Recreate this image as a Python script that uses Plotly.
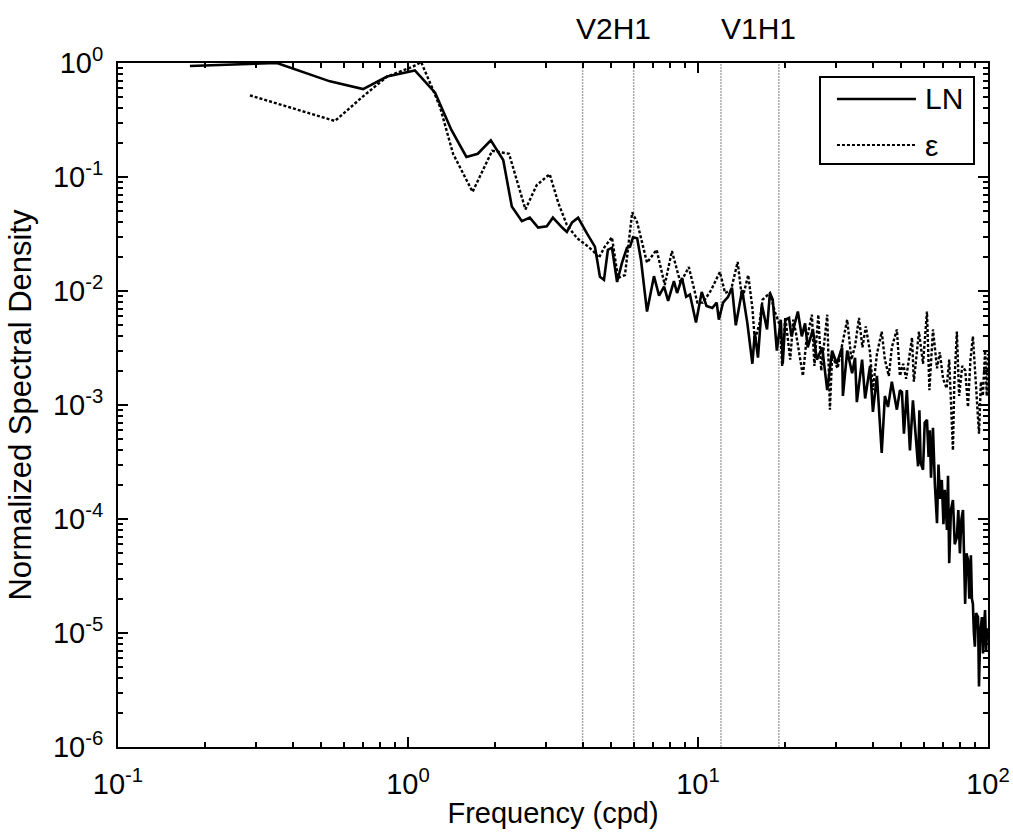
import math
import plotly.graph_objects as go

# ---- data ----
ln_freq = [0.177, 0.353, 0.538, 0.70, 0.847, 1.056, 1.24, 1.41, 1.59, 1.74, 1.93,
           2.13, 2.28, 2.47, 2.63, 2.81, 3.01, 3.16, 3.40, 3.53, 3.68, 3.86,
           4.14, 4.41, 4.49, 4.59, 4.74, 4.89, 5.05, 5.26, 5.47, 5.69, 5.83,
           5.97, 6.17, 6.36, 6.67, 7.05, 7.34, 7.64, 7.89, 8.26, 8.47, 8.81,
           9.1, 9.38, 9.84, 10.3, 10.7, 11.2, 11.6, 11.8, 12.2, 12.7, 13.1,
           13.5, 14.2, 14.8, 15.4, 15.7, 16.1, 16.6, 17.3, 17.7, 18.1, 18.7,
           19.3, 19.6, 20.0, 20.6, 21.0, 22.1, 22.8, 23.4, 23.9, 24.9, 25.7,
           26.8, 27.9, 29.0, 30.1, 31.4, 31.6, 32.7, 34.0, 34.8, 35.3, 36.8,
           37.7, 39.2, 40.1, 41.4, 43.0, 44.1, 45.2, 46.6, 48.5, 49.7, 50.5,
           51.3, 52.5, 53.8, 55.1, 56.2, 57.4, 58.0, 58.6, 59.7, 60.5, 61.6,
           62.4, 63.0, 63.6, 64.6, 65.6, 66.7, 67.5, 68.3, 69.3, 70.2, 71.0,
           72.2, 72.8, 73.5, 74.5, 75.7, 76.8, 78.1, 79.0, 80.0, 81.0, 82.0,
           82.7, 83.4, 84.3, 85.3, 86.2, 87.3, 88.0, 88.7, 89.4, 90.1, 91.0,
           92.4, 93.1, 94.0, 95.3, 96.1, 97.0, 97.7, 98.5, 99.3, 100.0]
ln_psd = [0.94, 1.0, 0.69, 0.59, 0.76, 0.86, 0.55, 0.26, 0.15, 0.16, 0.21,
          0.141, 0.055, 0.041, 0.044, 0.036, 0.037, 0.044, 0.036, 0.033, 0.040, 0.044,
          0.032, 0.0245, 0.0187, 0.0133, 0.0125, 0.023, 0.024, 0.012, 0.0177, 0.024, 0.0245,
          0.0296, 0.029, 0.0187, 0.0066, 0.0135, 0.0091, 0.0109, 0.0082, 0.0122, 0.0096, 0.0130,
          0.0089, 0.0093, 0.0053, 0.0098, 0.0074, 0.0071, 0.0079, 0.0056, 0.0079, 0.0089, 0.0107,
          0.0050, 0.0102, 0.0052, 0.0023, 0.0043, 0.0026, 0.0076, 0.0046, 0.0096, 0.0084, 0.0030,
          0.0056, 0.0023, 0.0056, 0.0058, 0.0040, 0.0066, 0.0040, 0.0052, 0.0032, 0.0046, 0.0025,
          0.0032, 0.00135, 0.0030, 0.0023, 0.0032, 0.0012, 0.0030, 0.0019, 0.0026, 0.00106, 0.0025,
          0.00114, 0.0022, 0.00087, 0.0018, 0.00038, 0.0012, 0.00096, 0.0016, 0.00091, 0.00135, 0.0013,
          0.00056, 0.00135, 0.0004, 0.0011, 0.0006, 0.00029, 0.0009, 0.00031, 0.00027, 0.0007, 0.00074,
          0.00035, 0.0006, 0.00023, 0.00063, 0.0002, 0.000092, 0.0003, 0.00015, 0.00022, 0.00009, 0.00018,
          0.00008, 0.00024, 0.000041, 0.00012, 0.000147, 0.00006, 0.000069, 0.00012, 0.00005, 0.0001, 0.00012,
          0.00004, 0.000018, 0.00005, 0.000044, 0.00002, 0.000048, 0.00002, 0.000018, 0.00001, 0.0000076, 0.000015,
          0.0000138, 0.0000034, 0.00001, 0.0000138, 0.0000066, 0.000012, 0.0000159, 0.000007, 0.000011, 0.000009]

eps_freq = [0.285, 0.56, 0.70, 0.847, 1.04, 1.11, 1.22, 1.29, 1.43, 1.67, 1.95,
            2.23, 2.54, 2.78, 3.08, 3.3, 3.53, 3.83, 4.14, 4.38, 4.55, 4.77,
            5.05, 5.3, 5.6, 5.93, 6.17, 6.67, 7.2, 7.68, 8.13, 8.7, 9.3,
            9.95, 10.4, 11.1, 11.9, 12.4, 13.0, 13.7, 14.2, 14.9, 15.4, 15.7,
            16.3, 16.7, 17.7, 18.4, 19.2, 19.5, 20.0, 20.8, 21.3, 21.8, 23.0,
            23.6, 24.7, 25.2, 26.0, 26.6, 27.9, 28.5, 29.0, 30.3, 31.5, 32.7,
            33.8, 34.8, 35.9, 36.9, 37.9, 39.2, 40.1, 41.4, 43.0, 44.1, 45.5,
            46.6, 48.5, 49.7, 51.0, 52.2, 54.7, 55.5, 57.8, 59.7, 61.6, 62.8,
            64.6, 66.7, 68.2, 70.0, 72.0, 73.5, 75.7, 76.5, 78.1, 79.5, 81.5,
            83.5, 85.3, 87.0, 88.7, 90.5, 92.0, 93.1, 94.5, 96.0, 97.7, 99.0, 100.0]
eps_psd = [0.52, 0.31, 0.51, 0.76, 0.93, 1.02, 0.58, 0.41, 0.16, 0.074, 0.17,
           0.16, 0.052, 0.085, 0.106, 0.059, 0.038, 0.029, 0.025, 0.022, 0.0195, 0.0245,
           0.0296, 0.013, 0.0138, 0.049, 0.040, 0.0177, 0.023, 0.0113, 0.0224, 0.0118, 0.0162,
           0.0079, 0.0079, 0.0102, 0.0147, 0.0096, 0.0102, 0.018, 0.0084, 0.0138, 0.0071, 0.0037,
           0.0052, 0.0084, 0.0096, 0.0066, 0.0049, 0.0022, 0.0059, 0.0025, 0.0056, 0.0042, 0.0018,
           0.0035, 0.0062, 0.0022, 0.0062, 0.0020, 0.0062, 0.00091, 0.0027, 0.0021, 0.0035, 0.0056,
           0.0025, 0.0033, 0.0058, 0.0032, 0.0049, 0.0029, 0.00135, 0.0028, 0.0044, 0.0025, 0.0018,
           0.0032, 0.0046, 0.0018, 0.0023, 0.0017, 0.0039, 0.0016, 0.0044, 0.0023, 0.0066, 0.00135,
           0.0046, 0.0021, 0.0029, 0.0017, 0.0014, 0.0025, 0.0004, 0.0015, 0.0044, 0.0012, 0.0022,
           0.0020, 0.00096, 0.0025, 0.004, 0.0018, 0.0011, 0.00056, 0.0016, 0.0012, 0.003, 0.0012, 0.0028]

mode_lines = [4.0, 6.0, 12.0, 19.0]
mode_labels = ["V2H1", "V1H1"]
mode_label_pos = [5.1, 16.2]

x_tickvals = [0.1, 1, 10, 100]
x_ticktext = ["10<sup>-1</sup>", "10<sup>0</sup>", "10<sup>1</sup>", "10<sup>2</sup>"]
y_tickvals = [1e-6, 1e-5, 1e-4, 1e-3, 1e-2, 1e-1, 1]
y_ticktext = ["10<sup>-6</sup>", "10<sup>-5</sup>", "10<sup>-4</sup>", "10<sup>-3</sup>",
              "10<sup>-2</sup>", "10<sup>-1</sup>", "10<sup>0</sup>"]
legend_names = ["LN", "ε"]

FONT = "Liberation Sans, Arial, sans-serif"

fig = go.Figure()

# vertical mode lines
vx, vy = [], []
for f in mode_lines:
    vx += [f, f, None]
    vy += [1e-6, 1, None]
fig.add_trace(go.Scatter(x=vx, y=vy, mode="lines", showlegend=False, hoverinfo="skip",
                         line=dict(color="#a8a8a8", width=1.5, dash="2px,1px")))

fig.add_trace(go.Scatter(x=ln_freq, y=ln_psd, mode="lines", name=legend_names[0],
                         line=dict(color="black", width=2.6), showlegend=False))
fig.add_trace(go.Scatter(x=eps_freq, y=eps_psd, mode="lines", name=legend_names[1],
                         line=dict(color="black", width=2.4, dash="3px,2px"), showlegend=False))

minor_x = [m * 10 ** e for e in range(-1, 2) for m in range(2, 10)]
minor_y = [m * 10 ** e for e in range(-6, 0) for m in range(2, 10)]

axis_common = dict(type="log", showline=True, linecolor="black", linewidth=2,
                   mirror="allticks", ticks="inside", ticklen=10, tickwidth=1.5,
                   tickcolor="black", showgrid=False, zeroline=False,
                   tickfont=dict(family=FONT, size=29, color="black"))

fig.update_xaxes(**axis_common, range=[-1, 2], tickmode="array",
                 tickvals=x_tickvals, ticktext=x_ticktext, ticklabelstandoff=10,
                 minor=dict(ticks="inside", ticklen=5, tickwidth=1.5, tickcolor="black",
                            tickmode="array", tickvals=minor_x, showgrid=False),
                 title=dict(text="Frequency (cpd)", font=dict(family=FONT, size=29, color="black"),
                            standoff=4))
fig.update_yaxes(**axis_common, range=[-6, 0], tickmode="array",
                 tickvals=y_tickvals, ticktext=y_ticktext, ticklabelstandoff=7,
                 minor=dict(ticks="inside", ticklen=5, tickwidth=1.5, tickcolor="black",
                            tickmode="array", tickvals=minor_y, showgrid=False),
                 title=dict(text="Normalized Spectral Density",
                            font=dict(family=FONT, size=31, color="black"), standoff=12))

# mode labels above the plot
for lab, pos in zip(mode_labels, mode_label_pos):
    fig.add_annotation(x=math.log10(pos), xref="x", y=1.051, yref="paper",
                       text=lab, showarrow=False, xanchor="center", yanchor="middle",
                       font=dict(family=FONT, size=30, color="black"))

# legend box
fig.add_shape(type="rect", xref="paper", yref="paper", x0=0.8069, x1=0.9839,
              y0=0.8523, y1=0.9795, line=dict(color="black", width=2), fillcolor="white",
              layer="above")
legend_y = [0.9474, 0.8801]
legend_dash = ["solid", "3px,2px"]
for name, ly, dsh in zip(legend_names, legend_y, legend_dash):
    fig.add_shape(type="line", xref="paper", yref="paper", x0=0.8264, x1=0.9172,
                  y0=ly, y1=ly, line=dict(color="black", width=2.5 if dsh == "solid" else 2, dash=dsh),
                  layer="above")
    fig.add_annotation(x=0.9253, xref="paper", y=ly, yref="paper", text=name,
                       showarrow=False, xanchor="left", yanchor="middle",
                       font=dict(family=FONT, size=30, color="black"))

fig.update_layout(width=1013, height=835, plot_bgcolor="white", paper_bgcolor="white",
                  margin=dict(l=118, r=25, t=63, b=88, autoexpand=False),
                  showlegend=False)

fig.write_html("out.html")
